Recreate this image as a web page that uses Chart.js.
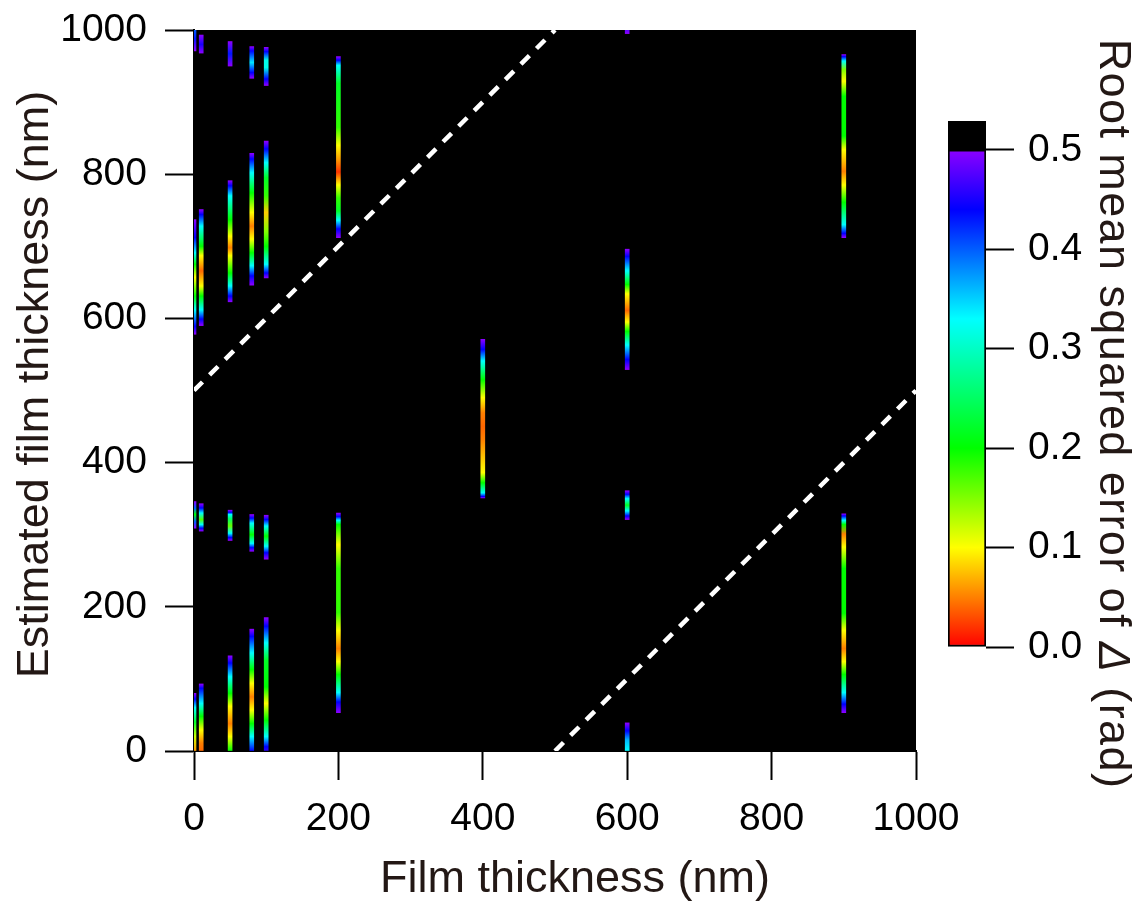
<!DOCTYPE html>
<html>
<head>
<meta charset="utf-8">
<script src="https://cdn.jsdelivr.net/npm/chart.js@4.4.1/dist/chart.umd.min.js"></script>
<style>
  html, body { margin: 0; padding: 0; background: #fff; }
  #wrap { position: relative; width: 1145px; height: 907px; overflow: hidden; }
  #main { position: absolute; left: 0; top: 0; }
  #cbar { position: absolute; left: 900px; top: 0; }
</style>
</head>
<body>
<div id="wrap">
  <canvas id="main" width="1145" height="907"></canvas>
  <canvas id="cbar" width="245" height="907"></canvas>
</div>
<script>
// axis ticks
const xTicks = [0, 200, 400, 600, 800, 1000];
const yTicks = [0, 200, 400, 600, 800, 1000];
const rmseTicks = [0.0, 0.1, 0.2, 0.3, 0.4, 0.5];
const rmseMax = 0.5;     // top of the colour scale, above it is black
const rmseOver = 0.529;  // top of the black cap on the colour bar

// strips: film thickness (nm), estimated thickness range (nm)
const stripX  = [0, 0, 0, 0, 10, 10, 10, 10, 50, 50, 50, 50, 80, 80, 80, 80, 100, 100, 100, 100, 200, 200, 400, 600, 600, 600, 600, 900, 900];
const stripLo = [971, 578, 309, 0, 968, 590, 305, 0, 950, 623, 292, 0, 933, 646, 277, 0, 923, 656, 266, 0, 712, 53, 351, 995, 529, 321, 0, 712, 53];
const stripHi = [1000, 737, 346, 80, 993, 751, 343, 93, 984, 791, 334, 132, 977, 829, 328, 169, 976, 846, 327, 185, 963, 330, 571, 1000, 696, 361, 39, 966, 329];

// RMSE of Delta read along each strip: [estimated thickness, rmse]
const stripRmse = [
  [[971, 0.5], [988, 0.43], [1000, 0.4]],
  [[578, 0.5], [589, 0.44], [612, 0.33], [631, 0.2], [657, 0.1], [675, 0.2], [691, 0.33], [712, 0.44], [737, 0.5]],
  [[309, 0.5], [318, 0.4], [328, 0.2], [337, 0.4], [346, 0.5]],
  [[0, 0.06], [20, 0.12], [40, 0.22], [60, 0.33], [72, 0.44], [80, 0.5]],
  [[968, 0.5], [980, 0.45], [993, 0.5]],
  [[590, 0.5], [599, 0.44], [612, 0.33], [631, 0.2], [645, 0.1], [666, 0.04], [687, 0.1], [700, 0.2], [728, 0.33], [744, 0.44], [751, 0.5]],
  [[305, 0.5], [309, 0.44], [314, 0.33], [321, 0.17], [330, 0.33], [337, 0.44], [343, 0.5]],
  [[0, 0.04], [11, 0.05], [29, 0.1], [48, 0.2], [66, 0.33], [87, 0.44], [93, 0.5]],
  [[950, 0.5], [967, 0.43], [984, 0.5]],
  [[623, 0.5], [631, 0.44], [645, 0.33], [663, 0.2], [687, 0.1], [698, 0.05], [714, 0.1], [737, 0.2], [770, 0.33], [784, 0.44], [791, 0.5]],
  [[292, 0.5], [296, 0.44], [302, 0.33], [312, 0.16], [322, 0.25], [328, 0.33], [331, 0.44], [334, 0.5]],
  [[0, 0.2], [20, 0.1], [38, 0.05], [62, 0.1], [80, 0.2], [103, 0.33], [122, 0.44], [132, 0.5]],
  [[933, 0.5], [941, 0.44], [955, 0.34], [971, 0.44], [977, 0.5]],
  [[646, 0.5], [659, 0.44], [673, 0.33], [691, 0.2], [710, 0.1], [728, 0.05], [747, 0.1], [774, 0.2], [802, 0.33], [821, 0.44], [829, 0.5]],
  [[277, 0.5], [282, 0.44], [288, 0.33], [300, 0.2], [316, 0.33], [323, 0.44], [328, 0.5]],
  [[0, 0.44], [20, 0.33], [38, 0.2], [57, 0.1], [75, 0.05], [94, 0.1], [113, 0.2], [136, 0.33], [159, 0.44], [169, 0.5]],
  [[923, 0.5], [932, 0.44], [948, 0.32], [958, 0.32], [970, 0.44], [976, 0.5]],
  [[656, 0.5], [663, 0.44], [675, 0.33], [700, 0.2], [720, 0.15], [747, 0.08], [770, 0.18], [795, 0.22], [816, 0.33], [835, 0.44], [846, 0.5]],
  [[266, 0.5], [275, 0.44], [284, 0.33], [298, 0.2], [312, 0.33], [321, 0.44], [327, 0.5]],
  [[0, 0.46], [6, 0.44], [20, 0.33], [43, 0.2], [66, 0.1], [89, 0.2], [126, 0.22], [150, 0.33], [173, 0.44], [185, 0.5]],
  [[712, 0.5], [724, 0.44], [736, 0.33], [749, 0.22], [767, 0.18], [785, 0.1], [803, 0.02], [820, 0.06], [840, 0.1], [865, 0.18], [926, 0.22], [951, 0.33], [958, 0.44], [963, 0.5]],
  [[53, 0.5], [68, 0.44], [81, 0.33], [106, 0.2], [124, 0.1], [142, 0.05], [167, 0.1], [192, 0.18], [253, 0.18], [286, 0.1], [314, 0.2], [320, 0.33], [325, 0.44], [330, 0.5]],
  [[351, 0.5], [353, 0.44], [358, 0.33], [372, 0.2], [386, 0.1], [432, 0.05], [450, 0.04], [469, 0.05], [490, 0.1], [515, 0.2], [541, 0.33], [557, 0.44], [571, 0.5]],
  [[995, 0.5], [1000, 0.48]],
  [[529, 0.5], [543, 0.44], [563, 0.33], [582, 0.2], [595, 0.1], [611, 0.04], [634, 0.1], [647, 0.2], [666, 0.33], [686, 0.44], [696, 0.5]],
  [[321, 0.5], [326, 0.44], [333, 0.33], [341, 0.22], [350, 0.33], [356, 0.44], [361, 0.5]],
  [[0, 0.33], [15, 0.36], [28, 0.44], [39, 0.5]],
  [[712, 0.5], [718, 0.44], [730, 0.33], [761, 0.2], [785, 0.1], [804, 0.05], [834, 0.1], [853, 0.2], [908, 0.2], [929, 0.1], [945, 0.15], [957, 0.33], [963, 0.44], [966, 0.5]],
  [[53, 0.5], [65, 0.44], [81, 0.33], [106, 0.2], [124, 0.1], [142, 0.05], [167, 0.1], [191, 0.2], [253, 0.2], [283, 0.1], [301, 0.05], [314, 0.2], [320, 0.33], [326, 0.44], [329, 0.5]]
];

// dashed guide lines (estimated = actual +/- 500 nm)
const guideUpper = [[0, 500], [500, 1000]];
const guideLower = [[500, 0], [1000, 500]];

const xTitle = 'Film thickness (nm)';
const yTitle = 'Estimated film thickness (nm)';

// rainbow colour map, red = 0, violet = 0.5
const cmapStops = [[0, [255, 0, 0]], [0.1, [255, 255, 0]], [0.2, [0, 255, 0]], [0.33, [0, 255, 255]], [0.44, [0, 0, 255]], [0.5, [140, 0, 255]]];

const fontFamily = "'Liberation Sans', Arial, Helvetica, sans-serif";
const titleColor = '#231815';
Chart.defaults.font.family = fontFamily;

function rmseColor(v) {
  v = Math.max(0, Math.min(rmseMax, v));
  for (let i = 1; i < cmapStops.length; i++) {
    const [v1, c1] = cmapStops[i];
    if (v <= v1) {
      const [v0, c0] = cmapStops[i - 1];
      const t = (v - v0) / (v1 - v0);
      const c = c0.map((a, k) => Math.round(a + (c1[k] - a) * t));
      return 'rgb(' + c.join(',') + ')';
    }
  }
  return 'rgb(140,0,255)';
}

// gradient for one strip, built on the y scale
function stripFill(context) {
  const chart = context.chart;
  const i = context.dataIndex;
  if (!chart.chartArea || i === undefined) return '#000';
  const y = chart.scales.y;
  const lo = stripLo[i], hi = stripHi[i];
  const g = chart.ctx.createLinearGradient(0, y.getPixelForValue(lo), 0, y.getPixelForValue(hi));
  stripRmse[i].forEach(([yy, v]) => g.addColorStop((yy - lo) / (hi - lo), rmseColor(v)));
  return g;
}

const plotBackground = {
  id: 'plotBackground',
  beforeDraw(chart) {
    const {ctx, chartArea: a} = chart;
    ctx.save();
    ctx.fillStyle = '#000';
    ctx.fillRect(a.left, a.top, a.right - a.left, a.bottom - a.top);
    ctx.restore();
  }
};

const axisTitles = {
  id: 'axisTitles',
  afterDraw(chart) {
    const {ctx, chartArea: a} = chart;
    ctx.save();
    ctx.fillStyle = titleColor;
    ctx.font = '45px ' + fontFamily;
    ctx.textAlign = 'center';
    ctx.textBaseline = 'middle';
    ctx.fillText(xTitle, (a.left + a.right) / 2 + 20, 880);
    ctx.translate(36, (a.top + a.bottom) / 2 - 6);
    ctx.rotate(-Math.PI / 2);
    ctx.fillText(yTitle, 0, 0);
    ctx.restore();
  }
};

const tickFont = {family: fontFamily, size: 39};

new Chart(document.getElementById('main'), {
  type: 'bar',
  data: {
    datasets: [
      {
        type: 'line',
        data: guideUpper.map(([x, y]) => ({x: x, y: y})),
        borderColor: '#fff',
        borderWidth: 4.5,
        borderDash: [12, 10],
        borderCapStyle: 'butt',
        pointRadius: 0,
        fill: false,
        clip: 0
      },
      {
        type: 'line',
        data: guideLower.map(([x, y]) => ({x: x, y: y})),
        borderColor: '#fff',
        borderWidth: 4.5,
        borderDash: [12, 10],
        borderCapStyle: 'butt',
        pointRadius: 0,
        fill: false,
        clip: 0
      },
      {
        type: 'bar',
        data: stripX.map((x, i) => ({x: x, y: [stripLo[i], stripHi[i]]})),
        backgroundColor: stripFill,
        borderWidth: 0,
        barThickness: 4,
        clip: 0
      }
    ]
  },
  options: {
    responsive: false,
    animation: false,
    layout: {padding: {left: 0, top: 30, right: 229, bottom: 0}},
    plugins: {legend: {display: false}, tooltip: {enabled: false}},
    scales: {
      x: {
        type: 'linear',
        min: 0,
        max: 1000,
        offset: false,
        afterBuildTicks: s => { s.ticks = xTicks.map(v => ({value: v})); },
        ticks: {font: tickFont, color: '#000', padding: 16, maxRotation: 0, callback: v => String(v)},
        grid: {drawOnChartArea: false, offset: false, tickLength: 29, tickWidth: 2, tickColor: '#000'},
        border: {color: '#000', width: 2},
        afterFit: s => { s.height = 156; s.paddingLeft = 0; s.paddingRight = 0; }
      },
      y: {
        type: 'linear',
        min: 0,
        max: 1000,
        afterBuildTicks: s => { s.ticks = yTicks.map(v => ({value: v})); },
        ticks: {font: tickFont, color: '#000', padding: 18, callback: v => String(v)},
        grid: {drawOnChartArea: false, tickLength: 29, tickWidth: 2, tickColor: '#000'},
        border: {color: '#000', width: 2},
        afterFit: s => { s.width = 194; s.paddingTop = 0; s.paddingBottom = 0; }
      }
    }
  },
  plugins: [plotBackground, axisTitles]
});

// colour bar
function barFill(context) {
  const chart = context.chart;
  if (!chart.chartArea) return '#000';
  const y = chart.scales.y;
  const g = chart.ctx.createLinearGradient(0, y.getPixelForValue(0), 0, y.getPixelForValue(rmseMax));
  cmapStops.forEach(([v, c]) => g.addColorStop(v / rmseMax, 'rgb(' + c.join(',') + ')'));
  return g;
}

const barTitle = {
  id: 'barTitle',
  afterDraw(chart) {
    const ctx = chart.ctx;
    const parts = [
      ['Root mean squared error of ', ''],
      ['\u0394', 'italic '],
      [' (rad)', '']
    ];
    ctx.save();
    ctx.fillStyle = titleColor;
    ctx.textBaseline = 'middle';
    ctx.textAlign = 'left';
    ctx.letterSpacing = '1.4px';
    let total = 0;
    parts.forEach(([t, st]) => { ctx.font = st + '45px ' + fontFamily; total += ctx.measureText(t).width; });
    ctx.translate(212, 414);
    ctx.rotate(Math.PI / 2);
    let x = -total / 2;
    parts.forEach(([t, st]) => {
      ctx.font = st + '45px ' + fontFamily;
      ctx.fillText(t, x, 0);
      x += ctx.measureText(t).width;
    });
    ctx.restore();
  }
};

new Chart(document.getElementById('cbar'), {
  type: 'bar',
  data: {
    labels: [''],
    datasets: [
      {
        data: [[0, rmseMax]],
        backgroundColor: barFill,
        borderColor: '#000',
        borderWidth: 2,
        borderSkipped: false,
        grouped: false,
        barPercentage: 1,
        categoryPercentage: 1
      },
      {
        data: [[rmseMax, rmseOver]],
        backgroundColor: '#000',
        borderColor: '#000',
        borderWidth: 2,
        borderSkipped: false,
        grouped: false,
        barPercentage: 1,
        categoryPercentage: 1
      }
    ]
  },
  options: {
    responsive: false,
    animation: false,
    layout: {padding: {left: 48, top: 121, right: 0, bottom: 260}},
    plugins: {legend: {display: false}, tooltip: {enabled: false}},
    scales: {
      x: {display: false},
      y: {
        position: 'right',
        min: 0,
        max: rmseOver,
        afterBuildTicks: s => { s.ticks = rmseTicks.map(v => ({value: v})); },
        ticks: {font: tickFont, color: '#000', padding: 14, callback: v => v.toFixed(1)},
        grid: {drawOnChartArea: false, tickLength: 28, tickWidth: 2, tickColor: '#000'},
        border: {display: false},
        afterFit: s => { s.width = 159; }
      }
    }
  },
  plugins: [barTitle]
});
</script>
</body>
</html>
